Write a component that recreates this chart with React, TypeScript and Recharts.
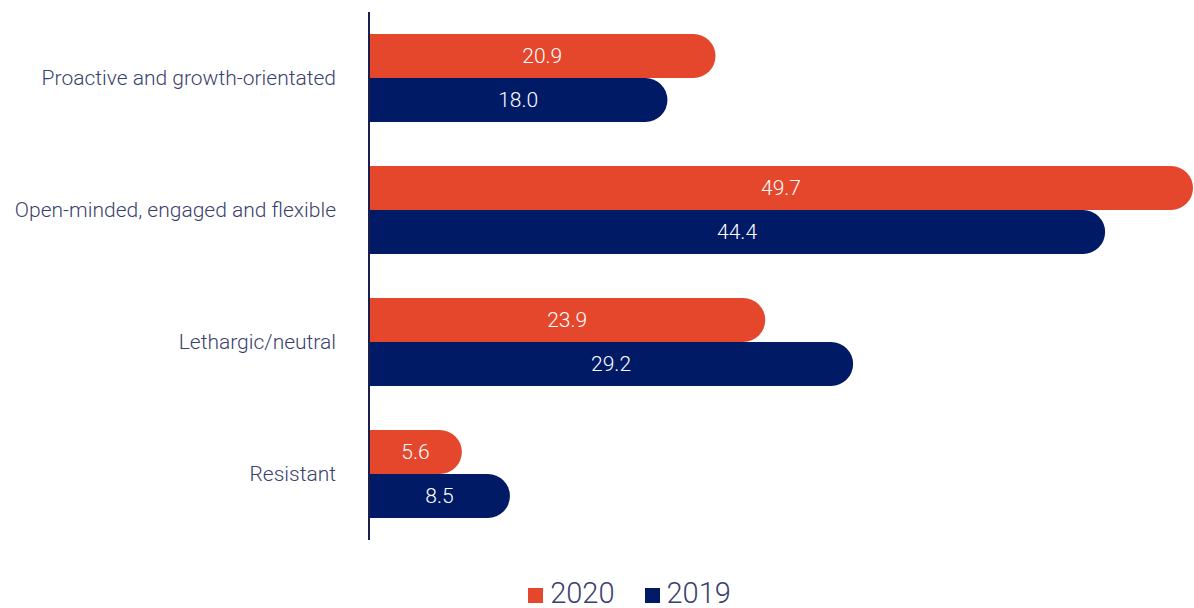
import { Bar, BarChart, LabelList, Legend, XAxis, YAxis } from "recharts";

const categories = [
  "Proactive and growth-orientated",
  "Open-minded, engaged and flexible",
  "Lethargic/neutral",
  "Resistant",
];
const values2020 = [20.9, 49.7, 23.9, 5.6];
const values2019 = [18.0, 44.4, 29.2, 8.5];
const seriesNames = ["2020", "2019"];

const RED = "#E5472D";
const NAVY = "#001A66";
const TEXT = "#3b3f6c";

const data = categories.map((name, i) => ({
  name,
  y2020: values2020[i],
  y2019: values2019[i],
}));

function LegendBox() {
  const items = [
    { label: seriesNames[0], color: RED },
    { label: seriesNames[1], color: NAVY },
  ];
  return (
    <div
      style={{
        display: "flex",
        justifyContent: "center",
        gap: 30,
        paddingTop: 39,
        paddingLeft: 66,
        fontFamily: "Roboto",
        fontWeight: 300,
        fontSize: 29,
        color: TEXT,
        lineHeight: "28px",
      }}
    >
      {items.map((it) => (
        <div key={it.label} style={{ display: "flex", alignItems: "center" }}>
          <span
            style={{
              display: "inline-block",
              width: 15,
              height: 15,
              background: it.color,
              marginRight: 7,
              marginTop: 4,
            }}
          />
          <span>{it.label}</span>
        </div>
      ))}
    </div>
  );
}

const labelStyle = { fill: "#fff", fontSize: 21, fontFamily: "Roboto", fontWeight: 300 };

export default function App() {
  return (
    <div style={{ position: "absolute", left: 0, top: 0, background: "#fff" }}>
      <BarChart
        width={1194}
        height={608}
        data={data}
        layout="vertical"
        margin={{ top: 12, right: 1, bottom: 0, left: 0 }}
        barCategoryGap={22}
        barGap={0}
      >
        <XAxis type="number" domain={[0, 49.7]} hide />
        <YAxis
          dataKey="name"
          type="category"
          width={369}
          tickLine={false}
          tickSize={0}
          tickMargin={33}
          axisLine={{ stroke: "#1b1f4f", strokeWidth: 2 }}
          tick={{ fill: TEXT, fontSize: 21, fontFamily: "Roboto", fontWeight: 300 }}
        />
        <Legend verticalAlign="bottom" height={68} content={<LegendBox />} />
        <Bar
          dataKey="y2020"
          name={seriesNames[0]}
          fill={RED}
          barSize={44}
          radius={[0, 22, 22, 0]}
          isAnimationActive={false}
        >
          <LabelList
            dataKey="y2020"
            position="center"
            formatter={(v: number) => v.toFixed(1)}
            style={labelStyle}
          />
        </Bar>
        <Bar
          dataKey="y2019"
          name={seriesNames[1]}
          fill={NAVY}
          barSize={44}
          radius={[0, 22, 22, 0]}
          isAnimationActive={false}
        >
          <LabelList
            dataKey="y2019"
            position="center"
            formatter={(v: number) => v.toFixed(1)}
            style={labelStyle}
          />
        </Bar>
      </BarChart>
    </div>
  );
}
